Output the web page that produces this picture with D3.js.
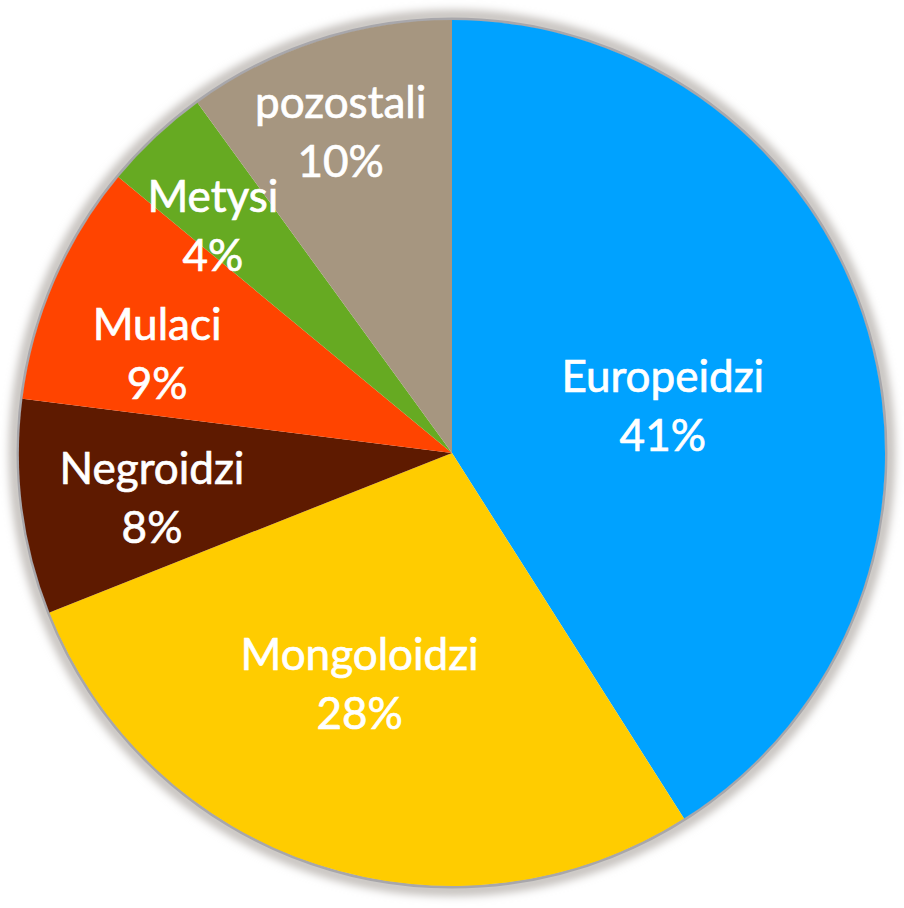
<!DOCTYPE html>
<html>
<head>
<meta charset="utf-8">
<script src="https://cdn.jsdelivr.net/npm/d3@7/dist/d3.min.js"></script>
<style>
  body { margin: 0; background: #fff; }
  svg { display: block; }
</style>
</head>
<body>
<div id="chart"></div>
<script>
// data, clockwise from 12 o'clock
const categories = ["Europeidzi", "Mongoloidzi", "Negroidzi", "Mulaci", "Metysi", "pozostali"];
const values = [41, 28, 8, 9, 4, 10];
const colours = ["#00a2ff", "#ffcc00", "#5e1a00", "#ff4400", "#66aa22", "#a69680"];

// label placement: radius as fraction of pie radius, small angle nudge in degrees
const labelRadius = [0.50, 0.57, 0.70, 0.72, 0.765, 0.79];
const labelNudge = [3, 4, -1, -4.5, -3, -1];

const width = 904, height = 908;
const cx = 452, cy = 453, radius = 433;

const svg = d3.select("#chart").append("svg")
    .attr("width", width)
    .attr("height", height);

const defs = svg.append("defs");
const blur = defs.append("filter")
    .attr("id", "soft")
    .attr("x", "-10%").attr("y", "-10%")
    .attr("width", "120%").attr("height", "120%");
blur.append("feGaussianBlur").attr("stdDeviation", 4);

const g = svg.append("g")
    .attr("transform", `translate(${cx},${cy})`);

// soft grey rim around the pie
g.append("circle")
    .attr("r", radius + 4)
    .attr("fill", "none")
    .attr("stroke", "#c4c0bc")
    .attr("stroke-width", 12)
    .attr("filter", "url(#soft)");
g.append("circle")
    .attr("r", radius + 1)
    .attr("fill", "none")
    .attr("stroke", "#a8a7ab")
    .attr("stroke-width", 3);

const pie = d3.pie().sort(null).value(d => d.value);
const arc = d3.arc().innerRadius(0).outerRadius(radius);

const table = categories.map((c, i) => ({ name: c, value: values[i], colour: colours[i], i: i }));
const arcs = pie(table);

g.selectAll("path.slice")
    .data(arcs)
    .join("path")
    .attr("class", "slice")
    .attr("fill", d => d.data.colour)
    .attr("d", arc);

const total = d3.sum(values);

const labels = g.selectAll("text.label")
    .data(arcs)
    .join("text")
    .attr("class", "label")
    .attr("text-anchor", "middle")
    .attr("fill", "#fff")
    .attr("stroke", "#fff")
    .attr("stroke-width", 0.7)
    .style("font-family", "Lato, 'Open Sans', sans-serif")
    .style("font-size", "44px")
    .attr("transform", d => {
        const a = (d.startAngle + d.endAngle) / 2 + labelNudge[d.data.i] * Math.PI / 180;
        const r = radius * labelRadius[d.data.i];
        return `translate(${r * Math.sin(a)},${-r * Math.cos(a)})`;
    });

labels.append("tspan")
    .attr("x", 0)
    .attr("y", -12)
    .text(d => d.data.name);

labels.append("tspan")
    .attr("x", 0)
    .attr("y", 47)
    .text(d => Math.round(d.data.value / total * 100) + "%");
</script>
</body>
</html>
